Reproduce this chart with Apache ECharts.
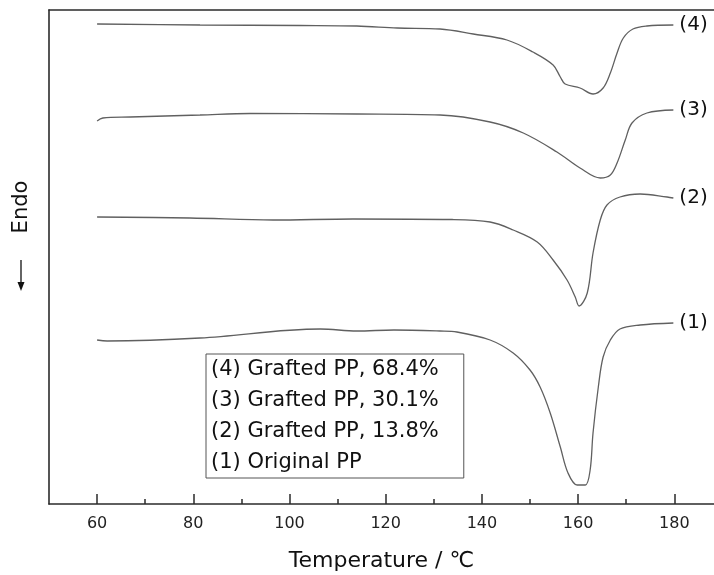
<!DOCTYPE html>
<html>
<head>
<meta charset="utf-8">
<script src="https://cdn.jsdelivr.net/npm/echarts@6/dist/echarts.min.js"></script>
<style>
  html, body { margin: 0; padding: 0; background: #fff; }
  #chart { width: 714px; height: 575px; }
</style>
</head>
<body>
<div id="chart"></div>
<script>
// DSC heating curves, heat flow in arbitrary units (curves stacked)
var temp4 = [60, 81.4, 102.2, 114, 122.4, 131.3, 138.2, 145.2, 150.6, 154.8, 156.3, 157.3, 160.4, 163.1, 165.2, 166.7, 168.1, 169.4, 171.4, 174.3, 179.8];
var heat4 = [48.0, 47.9, 47.85, 47.8, 47.6, 47.5, 47.0, 46.4, 45.2, 43.9, 42.7, 42.0, 41.6, 41.0, 41.6, 43.1, 45.1, 46.6, 47.5, 47.8, 47.9];

var temp3 = [60, 61.2, 66.9, 81.4, 91.8, 114, 131.3, 141.7, 148.6, 155.6, 160.4, 164.6, 166.7, 168.1, 169.8, 171.2, 174.3, 179.8];
var heat3 = [38.3, 38.6, 38.7, 38.9, 39.05, 39.0, 38.9, 38.2, 37.1, 35.2, 33.6, 32.6, 32.9, 34.1, 36.4, 38.1, 39.1, 39.4];

var temp2 = [60, 79.3, 96.6, 113.2, 133.8, 141.7, 146.5, 151.5, 154.8, 157.7, 159.4, 160.2, 161.9, 163.1, 164.6, 166.0, 168.7, 172.9, 178.5, 179.8];
var heat2 = [28.7, 28.6, 28.4, 28.5, 28.45, 28.2, 27.4, 26.2, 24.4, 22.4, 20.7, 19.8, 21.1, 25.1, 28.4, 29.9, 30.7, 31.0, 30.7, 30.6];

var temp1 = [60, 62.1, 81.4, 106.4, 114, 121.7, 131.3, 134.8, 141.7, 146.5, 150, 152.1, 154.2, 156.3, 157.9, 159.8, 161.5, 162.5, 163.1, 164.2, 165.2, 166.7, 168.7, 172.9, 179.8];
var heat1 = [16.4, 16.3, 16.6, 17.5, 17.3, 17.4, 17.3, 17.2, 16.4, 15.1, 13.4, 11.7, 9.1, 5.7, 3.1, 1.9, 1.9, 3.4, 7.1, 11.7, 14.7, 16.4, 17.5, 17.9, 18.1];

var seriesNames = ['(4) Grafted PP, 68.4%', '(3) Grafted PP, 30.1%', '(2) Grafted PP, 13.8%', '(1) Original PP'];
var endTags = ['(4)', '(3)', '(2)', '(1)'];
var majorTicks = [60, 80, 100, 120, 140, 160, 180];
var minorTicks = [70, 90, 110, 130, 150, 170];

function pairs(xs, ys) {
    var out = [];
    for (var i = 0; i < xs.length; i++) out.push([xs[i], ys[i]]);
    return out;
}

var curves = [pairs(temp4, heat4), pairs(temp3, heat3), pairs(temp2, heat2), pairs(temp1, heat1)];
var font = 'DejaVu Sans';
var frame = { color: '#2b2b2b', width: 1.6 };

var chart = echarts.init(document.getElementById('chart'));
chart.setOption({
    animation: false,
    grid: { left: 49, top: 10, right: 0, bottom: 71, outerBoundsMode: 'none' },
    legend: {
        data: seriesNames,
        orient: 'vertical',
        left: 206,
        top: 354,
        icon: 'none',
        itemWidth: 0,
        itemHeight: 14,
        itemGap: 0,
        selectedMode: false,
        padding: [0, 25, 0, 0],
        borderColor: '#555',
        borderWidth: 1,
        textStyle: { fontFamily: font, fontSize: 21, color: '#111', lineHeight: 31 }
    },
    xAxis: [{
        type: 'value',
        min: 50,
        max: 188.25,
        name: 'Temperature / ℃',
        nameLocation: 'middle',
        nameGap: 46,
        nameTextStyle: { fontFamily: font, fontSize: 22, color: '#111' },
        axisLine: { show: true, lineStyle: frame },
        axisTick: { inside: true, length: 10, lineStyle: { color: '#2b2b2b', width: 1.5 }, customValues: majorTicks },
        axisLabel: { customValues: majorTicks, margin: 12, fontFamily: font, fontSize: 16, color: '#222' },
        splitLine: { show: false }
    }, {
        type: 'value',
        min: 50,
        max: 188.25,
        position: 'bottom',
        axisLine: { show: false },
        axisTick: { inside: true, length: 5, lineStyle: { color: '#2b2b2b', width: 1.5 }, customValues: minorTicks },
        axisLabel: { show: false },
        splitLine: { show: false }
    }, {
        type: 'value',
        min: 50,
        max: 188.25,
        position: 'top',
        axisLine: { show: true, lineStyle: frame },
        axisTick: { show: false },
        axisLabel: { show: false },
        splitLine: { show: false }
    }],
    yAxis: {
        type: 'value',
        min: 0,
        max: 49.4,
        axisLine: { show: true, lineStyle: frame },
        axisTick: { show: false },
        axisLabel: { show: false },
        splitLine: { show: false }
    },
    series: curves.map(function (d, i) {
        return {
            name: seriesNames[i],
            type: 'line',
            data: d,
            smooth: 0.35,
            showSymbol: false,
            color: '#606060',
            lineStyle: { width: 1.3, color: '#606060' },
            endLabel: {
                show: true,
                formatter: endTags[i],
                distance: 6,
                fontFamily: font,
                fontSize: 20,
                color: '#111'
            }
        };
    }),
    graphic: [{
        type: 'text',
        x: 22,
        y: 207,
        rotation: Math.PI / 2,
        style: { text: 'Endo', font: '21px "DejaVu Sans"', fill: '#111', align: 'center', verticalAlign: 'middle' }
    }, {
        type: 'line',
        shape: { x1: 21, y1: 260, x2: 21, y2: 284 },
        style: { stroke: '#111', lineWidth: 1.3 }
    }, {
        type: 'polygon',
        shape: { points: [[17.5, 282], [24.5, 282], [21, 291]] },
        style: { fill: '#111' }
    }]
});
</script>
</body>
</html>
